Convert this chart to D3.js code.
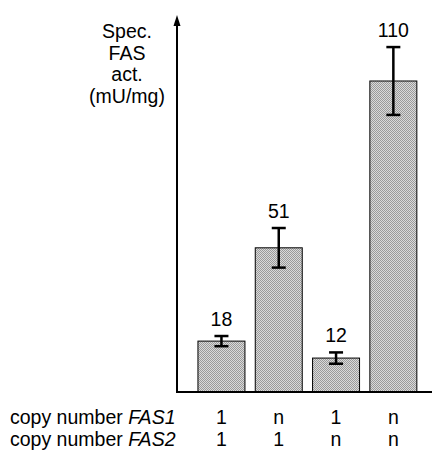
<!DOCTYPE html>
<html>
<head>
<meta charset="utf-8">
<script src="https://cdn.jsdelivr.net/npm/d3@7"></script>
<style>
  body { margin: 0; background: #fff; }
  text { font-family: "Liberation Sans", Arial, sans-serif; fill: #000; }
</style>
</head>
<body>
<script>
// chart values
var strains = ["A", "B", "C", "D"];
var activity = [18, 51, 12, 110];
var errors = [1.8, 7, 2, 12];
var fas1Copies = ["1", "n", "1", "n"];
var fas2Copies = ["1", "1", "n", "n"];
var yLabelLines = ["Spec.", "FAS", "act.", "(mU/mg)"];

var svgWidth = 436, svgHeight = 451;
var fontSize = "19.5px";

var svg = d3.select("body")
  .append("svg")
  .attr("width", svgWidth)
  .attr("height", svgHeight);

// stippled grey fill like the print
var defs = svg.append("defs");
var pat = defs.append("pattern")
  .attr("id", "stipple")
  .attr("width", 2).attr("height", 2)
  .attr("patternUnits", "userSpaceOnUse");
pat.append("rect").attr("width", 2).attr("height", 2).attr("fill", "#dadada");
pat.append("rect").attr("width", 1).attr("height", 1).attr("fill", "#9a9a9a");
pat.append("rect").attr("x", 1).attr("y", 1).attr("width", 1).attr("height", 1).attr("fill", "#9a9a9a");

var x = d3.scaleBand()
  .domain(strains)
  .range([192.8, 422])
  .paddingInner(0.18)
  .paddingOuter(0.09);

var y = d3.scaleLinear()
  .domain([0, 110])
  .range([392, 81]);

var axisX = 177;
var cx = (d, i) => x(strains[i]) + x.bandwidth() / 2;

// bars
svg.selectAll("rect.bar")
  .data(activity)
  .enter()
  .append("rect")
  .attr("class", "bar")
  .attr("x", (d, i) => x(strains[i]))
  .attr("y", d => y(d))
  .attr("width", x.bandwidth())
  .attr("height", d => y(0) - y(d))
  .attr("fill", "url(#stipple)")
  .attr("stroke", "#000")
  .attr("stroke-width", 1);

// error bars
var eb = svg.selectAll("g.err")
  .data(activity)
  .enter()
  .append("g")
  .attr("class", "err")
  .attr("stroke", "#000")
  .attr("stroke-width", 2.5);

eb.append("line")
  .attr("x1", cx)
  .attr("x2", cx)
  .attr("y1", (d, i) => y(d + errors[i]))
  .attr("y2", (d, i) => y(d - errors[i]));

[1, -1].forEach(function(s) {
  eb.append("line")
    .attr("x1", (d, i) => cx(d, i) - 7)
    .attr("x2", (d, i) => cx(d, i) + 7)
    .attr("y1", (d, i) => y(d + s * errors[i]))
    .attr("y2", (d, i) => y(d + s * errors[i]));
});

// value labels
svg.selectAll("text.val")
  .data(activity)
  .enter()
  .append("text")
  .attr("class", "val")
  .attr("x", cx)
  .attr("y", (d, i) => y(d + errors[i]) - 10)
  .attr("text-anchor", "middle")
  .style("font-size", fontSize)
  .text(d => d);

// axes
svg.append("line")
  .attr("x1", axisX).attr("x2", 432)
  .attr("y1", y(0)).attr("y2", y(0))
  .attr("stroke", "#000").attr("stroke-width", 2);

svg.append("line")
  .attr("x1", axisX).attr("x2", axisX)
  .attr("y1", y(0) + 1).attr("y2", 22)
  .attr("stroke", "#000").attr("stroke-width", 2);

svg.append("path")
  .attr("d", `M${axisX - 3.5},26 L${axisX},15 L${axisX + 3.5},26 Z`)
  .attr("fill", "#000");

// y label
svg.append("text")
  .attr("text-anchor", "middle")
  .style("font-size", fontSize)
  .selectAll("tspan")
  .data(yLabelLines)
  .enter()
  .append("tspan")
  .attr("x", 127)
  .attr("y", (d, i) => 38 + i * 21.7)
  .text(d => d);

// copy number rows
var rows = [["FAS1", fas1Copies, 424], ["FAS2", fas2Copies, 446]];
rows.forEach(function(r) {
  var t = svg.append("text")
    .attr("x", 10).attr("y", r[2])
    .style("font-size", fontSize);
  t.append("tspan").text("copy number ");
  t.append("tspan").style("font-style", "italic").text(r[0]);

  svg.selectAll(null)
    .data(r[1])
    .enter()
    .append("text")
    .attr("x", cx)
    .attr("y", r[2])
    .attr("text-anchor", "middle")
    .style("font-size", fontSize)
    .text(d => d);
});
</script>
</body>
</html>
